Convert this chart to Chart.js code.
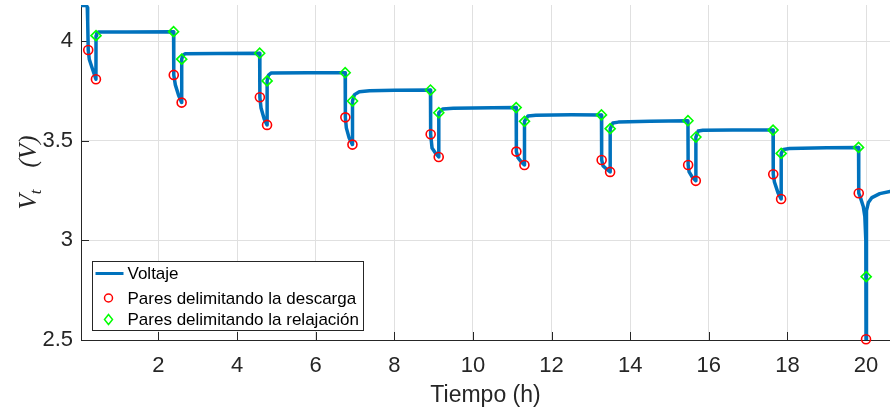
<!DOCTYPE html>
<html lang="es">
<head>
<meta charset="utf-8">
<title>Voltaje vs tiempo</title>
<script src="https://cdn.jsdelivr.net/npm/chart.js@4.4.1/dist/chart.umd.min.js"></script>
<style>
  html, body { margin: 0; padding: 0; background: #fff; }
  #wrap { position: relative; width: 890px; height: 413px; }
</style>
</head>
<body>
<div id="wrap"><canvas id="voltChart"></canvas></div>
<script>
// Curva de voltaje, tiempo en horas
const tiempo = [
    0.03, 0.17, 0.19, 0.200, 0.214, 0.24, 0.32, 0.41, 0.412, 0.43, 0.47, 1.2, 2.385,
    2.39, 2.43, 2.51, 2.59, 2.592, 2.62, 2.68, 3.5, 4.575,
    4.58, 4.61, 4.69, 4.763, 4.765, 4.80, 4.87, 5.8, 6.75,
    6.755, 6.78, 6.85, 6.935, 6.937, 6.986, 7.11, 7.37, 8.0, 8.92,
    8.925, 8.96, 9.05, 9.13, 9.132, 9.23, 9.5, 10.5, 11.10,
    11.105, 11.15, 11.24, 11.31, 11.312, 11.40, 11.6, 12.5, 13.27,
    13.275, 13.31, 13.42, 13.49, 13.492, 13.56, 13.7, 14.5, 15.47,
    15.475, 15.50, 15.58, 15.67, 15.672, 15.73, 15.85, 16.6, 17.635,
    17.64, 17.67, 17.76, 17.84, 17.842, 17.90, 18.05, 19.0, 19.81,
    19.815, 19.85, 19.93, 19.97, 19.995, 20.0, 20.005, 20.01, 20.02, 20.06, 20.15, 20.35, 20.61
];
const voltaje = [
    4.180, 4.180, 4.170, 4.100, 3.956, 3.910, 3.862, 3.809, 4.028, 4.040, 4.046, 4.047, 4.048,
    3.831, 3.781, 3.730, 3.692, 3.910, 3.930, 3.937, 3.939, 3.940,
    3.719, 3.665, 3.610, 3.580, 3.801, 3.830, 3.841, 3.842, 3.842,
    3.618, 3.565, 3.515, 3.481, 3.700, 3.732, 3.747, 3.752, 3.754, 3.755,
    3.533, 3.464, 3.438, 3.419, 3.641, 3.660, 3.663, 3.666, 3.667,
    3.446, 3.414, 3.392, 3.379, 3.598, 3.625, 3.629, 3.631, 3.630,
    3.404, 3.374, 3.355, 3.344, 3.561, 3.590, 3.594, 3.598, 3.601,
    3.379, 3.344, 3.318, 3.299, 3.519, 3.549, 3.553, 3.555, 3.554,
    3.332, 3.293, 3.240, 3.208, 3.437, 3.457, 3.461, 3.465, 3.467,
    3.237, 3.220, 3.170, 3.120, 3.000, 2.504, 2.818, 3.000, 3.150, 3.190, 3.215, 3.235, 3.246
];

// Pares que delimitan cada descarga (círculos rojos)
const descargaT = [0.214, 0.41, 2.39, 2.59, 4.58, 4.763, 6.755, 6.935, 8.925, 9.13,
                   11.105, 11.31, 13.275, 13.49, 15.475, 15.67, 17.64, 17.84, 19.815, 20.0];
const descargaV = [3.956, 3.809, 3.831, 3.692, 3.719, 3.580, 3.618, 3.481, 3.533, 3.419,
                   3.446, 3.379, 3.404, 3.344, 3.379, 3.299, 3.332, 3.208, 3.237, 2.504];

// Pares que delimitan cada relajación (rombos verdes)
const relajT = [0.412, 2.385, 2.592, 4.575, 4.765, 6.75, 6.937, 8.92, 9.132, 11.10,
                11.312, 13.27, 13.492, 15.47, 15.672, 17.635, 17.842, 19.81, 20.005];
const relajV = [4.028, 4.048, 3.910, 3.940, 3.801, 3.842, 3.700, 3.755, 3.641, 3.667,
                3.598, 3.630, 3.561, 3.601, 3.519, 3.554, 3.437, 3.467, 2.818];

// Ejes
const xTicks = [2, 4, 6, 8, 10, 12, 14, 16, 18, 20];
const yTicks = [2.5, 3, 3.5, 4];
const xRango = [0.03, 20.61];
const yRango = [2.5, 4.182];
const etiquetas = ['Voltaje', 'Pares delimitando la descarga', 'Pares delimitando la relajación'];

const AZUL = '#0072BD';
const ROJO = '#FF0000';
const VERDE = '#00FF00';
const GRIS = '#262626';
const FUENTE = '"Liberation Sans", Arial, Helvetica, sans-serif';

function pares(xs, ys) {
    return xs.map((x, i) => ({ x: x, y: ys[i] }));
}

// marcas de los ejes hacia adentro (estilo MATLAB)
const marcasInternas = {
    id: 'marcasInternas',
    beforeDatasetsDraw(chart) {
        const ctx = chart.ctx, a = chart.chartArea;
        const sx = chart.scales.x, sy = chart.scales.y;
        ctx.save();
        ctx.strokeStyle = GRIS;
        ctx.lineWidth = 1;
        ctx.beginPath();
        xTicks.forEach(v => {
            const px = Math.round(sx.getPixelForValue(v)) + 0.5;
            ctx.moveTo(px, a.bottom);
            ctx.lineTo(px, a.bottom - 8);
        });
        yTicks.forEach(v => {
            const py = Math.round(sy.getPixelForValue(v)) + 0.5;
            ctx.moveTo(a.left, py);
            ctx.lineTo(a.left + 8, py);
        });
        ctx.stroke();
        ctx.restore();
    }
};

// etiqueta del eje y: V_t  (V)
const etiquetaY = {
    id: 'etiquetaY',
    afterDraw(chart) {
        const ctx = chart.ctx, a = chart.chartArea;
        const fG = 'italic 25px "Liberation Serif", "Times New Roman", serif';
        const fP = 'italic 17px "Liberation Serif", "Times New Roman", serif';
        ctx.save();
        ctx.translate(36, (a.top + a.bottom) / 2);
        ctx.rotate(-Math.PI / 2);
        ctx.fillStyle = GRIS;
        ctx.textBaseline = 'alphabetic';
        ctx.font = fG;
        const wV = ctx.measureText('V').width;
        const wPar = ctx.measureText('(V)').width;
        ctx.font = fP;
        const wt = ctx.measureText('t').width;
        const hueco = 22;
        let x = -(wV + wt + hueco + wPar) / 2;
        ctx.font = fG; ctx.fillText('V', x, 0); x += wV;
        ctx.font = fP; ctx.fillText('t', x, 5); x += wt + hueco;
        ctx.font = fG; ctx.fillText('(V)', x, 0);
        ctx.restore();
    }
};

// leyenda en la esquina inferior izquierda
const leyenda = {
    id: 'leyenda',
    afterDraw(chart) {
        const ctx = chart.ctx, a = chart.chartArea;
        const bx = Math.round(a.left) + 11.5, by = Math.round(a.bottom) - 78.5, bw = 271, bh = 69;
        ctx.save();
        ctx.fillStyle = '#fff';
        ctx.fillRect(bx, by, bw, bh);
        ctx.strokeStyle = GRIS;
        ctx.lineWidth = 1;
        ctx.strokeRect(bx, by, bw, bh);
        const filas = [by + 12, by + 36.5, by + 58];
        const mx = bx + 16;
        // línea
        ctx.strokeStyle = AZUL;
        ctx.lineWidth = 3;
        ctx.beginPath();
        ctx.moveTo(bx + 3, filas[0]);
        ctx.lineTo(bx + 31, filas[0]);
        ctx.stroke();
        // círculo
        ctx.strokeStyle = ROJO;
        ctx.lineWidth = 1.5;
        ctx.beginPath();
        ctx.arc(mx, filas[1], 4, 0, Math.PI * 2);
        ctx.stroke();
        // rombo
        ctx.strokeStyle = VERDE;
        ctx.beginPath();
        ctx.moveTo(mx, filas[2] - 5);
        ctx.lineTo(mx + 4, filas[2]);
        ctx.lineTo(mx, filas[2] + 5);
        ctx.lineTo(mx - 4, filas[2]);
        ctx.closePath();
        ctx.stroke();
        ctx.fillStyle = '#000';
        ctx.font = '17px ' + FUENTE;
        ctx.textBaseline = 'middle';
        etiquetas.forEach((t, i) => ctx.fillText(t, bx + 35, filas[i] + 1));
        ctx.restore();
    }
};

const ctx = document.getElementById('voltChart').getContext('2d');
new Chart(ctx, {
    type: 'scatter',
    data: {
        datasets: [
            {
                label: etiquetas[0],
                data: pares(tiempo, voltaje),
                showLine: true,
                borderColor: AZUL,
                borderWidth: 3.5,
                borderJoinStyle: 'round',
                borderCapStyle: 'round',
                pointRadius: 0,
                tension: 0,
                order: 3
            },
            {
                label: etiquetas[1],
                data: pares(descargaT, descargaV),
                pointStyle: 'circle',
                pointRadius: 4.5,
                borderColor: ROJO,
                backgroundColor: 'rgba(0,0,0,0)',
                pointBorderWidth: 1.6,
                clip: false,
                order: 2
            },
            {
                label: etiquetas[2],
                data: pares(relajT, relajV),
                pointStyle: 'rectRot',
                pointRadius: 5,
                borderColor: VERDE,
                backgroundColor: 'rgba(0,0,0,0)',
                pointBorderWidth: 1.6,
                clip: false,
                order: 1
            }
        ]
    },
    options: {
        responsive: true,
        maintainAspectRatio: false,
        animation: false,
        devicePixelRatio: 1,
        layout: { autoPadding: false, padding: { top: 5, right: 0, left: 0, bottom: 0 } },
        plugins: {
            legend: { display: false },
            tooltip: { enabled: false }
        },
        scales: {
            x: {
                type: 'linear',
                min: xRango[0],
                max: xRango[1],
                afterBuildTicks: s => { s.ticks = xTicks.map(v => ({ value: v })); },
                afterFit: s => {
                    s.height = 73;
                    s.paddingLeft = 0; s.paddingRight = 0;
                    s.paddingTop = 0; s.paddingBottom = 0;
                },
                ticks: {
                    color: GRIS,
                    font: { family: FUENTE, size: 22 },
                    padding: 13,
                    maxRotation: 0,
                    callback: v => String(v)
                },
                grid: { color: '#e0e0e0', lineWidth: 1, drawTicks: false },
                border: { display: true, color: GRIS, width: 1 },
                title: {
                    display: true,
                    text: 'Tiempo (h)',
                    color: GRIS,
                    font: { family: FUENTE, size: 23 },
                    padding: { top: 0, bottom: 4 }
                }
            },
            y: {
                type: 'linear',
                min: yRango[0],
                max: yRango[1],
                afterBuildTicks: s => { s.ticks = yTicks.map(v => ({ value: v })); },
                afterFit: s => {
                    s.width = 81;
                    s.paddingLeft = 0; s.paddingRight = 0;
                    s.paddingTop = 0; s.paddingBottom = 0;
                },
                ticks: {
                    color: GRIS,
                    font: { family: FUENTE, size: 22 },
                    padding: 8,
                    callback: v => String(v)
                },
                grid: { color: '#e0e0e0', lineWidth: 1, drawTicks: false },
                border: { display: true, color: GRIS, width: 1 }
            }
        }
    },
    plugins: [marcasInternas, etiquetaY, leyenda]
});
</script>
</body>
</html>
